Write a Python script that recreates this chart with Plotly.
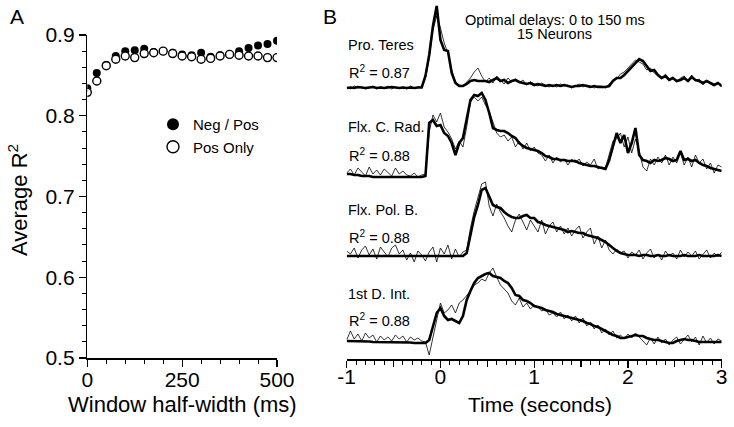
import plotly.graph_objects as go

W, H = 734, 427

# ---------------- Panel A data ----------------
half_width_ms = [0, 25, 50, 75, 100, 125, 150, 175, 200, 225, 250, 275, 300, 325, 350, 375, 400, 425, 450, 475, 500]
r2_neg_pos = [0.834, 0.853, 0.863, 0.874, 0.880, 0.881, 0.883, 0.879, 0.880, 0.878, 0.876, 0.875, 0.878, 0.873,
              0.875, 0.876, 0.880, 0.884, 0.887, 0.889, 0.893]
r2_pos_only = [0.829, 0.843, 0.862, 0.870, 0.874, 0.872, 0.877, 0.878, 0.880, 0.877, 0.874, 0.873, 0.870, 0.871,
               0.874, 0.876, 0.875, 0.874, 0.874, 0.872, 0.872]

# ---------------- Panel B data (heights above each trace's baseline) ----------------
time_s = [round(-1 + 0.04 * k, 2) for k in range(101)]

teres_model = [0, 0.5, 0, 1, 0.5, 0, 0.5, 1, 0, 0.5, 0, 0.5, 1, 0.5, 0, 0.5, 0, 0.5, 0, 0.5,
               0.5, 12, 33, 62, 82, 48, 38, 37, 15, 5, 2,
               2, 4, 7, 8, 7, 7, 7, 6, 8, 10, 7, 8, 5, 7, 8, 6, 5, 4, 5,
               3, 4, 3, 2, 3,
               2, 3, 2, 3, 2, 1, 2, 2, 3, 2, 1, 2, 1,
               1, 1, 2, 7, 10, 10, 13, 17, 22, 25, 29, 27, 22, 17, 18, 13, 10, 12, 8, 10, 7, 8, 10, 7, 11,
               8, 7, 5, 7, 5, 3, 5, 2]
teres_actual = [1, -1, 2, 0, 1, -1, 0, 2, -1, 1, 0, 2, -1, 1, 0, 1, -1, 2, 0, 1,
                1, 10, 30, 58, 72, 60, 45, 35, 18, 6, 3,
                2, 6, 10, 16, 20, 12, 6, 10, 5, 12, 8, 4, 10, 6, 9, 5, 8, 3, 6,
                4, 2, 5, 3, 1,
                3, 1, 4, 2, 3, 0, 2, 4, 1, 3, 2, 0, 2,
                2, 0, 4, 8, 9, 14, 16, 20, 24, 28, 26, 24, 18, 20, 15, 12, 9, 14, 9, 11, 6, 10, 12, 6, 13,
                7, 9, 3, 8, 4, 2, 6, 1]

rad_model = [3, 3, 2, 2, 1, 1, 1, 0, 0, 0, 0, 0, 0, 0, 0, 0, 0, 0, 0, 0, 0,
             1, 54, 57, 51, 52, 44, 41, 34, 22, 34, 39, 57, 77, 82, 81, 84, 77, 64, 49,
             47, 46, 46, 44, 41, 39, 34, 31, 29, 28, 27, 26, 24, 21, 20, 18, 18, 17, 17, 16,
             16, 16, 14, 13, 12, 11, 11, 10, 9, 8, 17, 31, 44, 34, 42, 24, 34, 49, 22, 17,
             16, 14, 17, 16, 17, 19, 18, 16, 17, 26, 17, 18, 16, 17, 14, 12, 11, 9, 8, 7, 6]
rad_actual = [4, 8, 2, 9, 5, 1, 10, 3, 7, 2, 8, 4, 1, 9, 3, 6, 2, 1, 4, 0, 2,
              3, 45, 62, 55, 64, 50, 45, 38, 28, 36, 30, 50, 75, 80, 76, 80, 72, 66, 55,
              44, 40, 42, 36, 40, 30, 36, 28, 34, 26, 30, 24, 22, 16, 22, 14, 20, 15, 18, 12,
              18, 14, 18, 11, 15, 12, 18, 8, 10, 9, 22, 36, 38, 44, 30, 40, 24, 38, 26, 10,
              6, 18, 12, 20, 14, 22, 12, 20, 14, 24, 12, 20, 10, 22, 14, 18, 8, 14, 4, 12, 10]

pol_model = [0] * 32 + [3, 23, 39, 51, 66, 68, 59, 51,
             49, 48, 44, 41, 39, 38, 38, 40, 41, 38, 38, 34, 33, 31, 30, 29, 28, 27, 26, 24,
             25, 24, 23, 23, 21, 20, 19, 18, 16, 14, 11, 8, 5, 3, 2, 1,
             1, 1, 0, 1, 1, 0, 0, 1, 0, 0, 1, 0, 0, 0, 1, 0, 0, 0, 1, 0, 0, 0, 0, 1, 0]
pol_actual = [5, 2, 8, -2, 6, 10, 1, 7, -3, 9, 4, -1, 8, 11, 2, 6, -4, 3, -6, 5, 1, -5, 4, 9, -6, 8, 2, 11, -3, 7, -1, 4,
              6, 28, 45, 60, 72, 74, 50, 40,
              52, 44, 38, 30, 24, 36, 42, 34, 26, 36, 30, 24, 36, 22, 30, 34, 24, 30, 22, 28,
              20, 26, 30, 18, 24, 28, 12, 20, 8, 16, 6, 2, 7, 3, 5, -2,
              4, 1, 6, -3, 3, 7, -2, 2, -4, 5, 0, 3, -3, 6, -1, 4, 0, 5, -3, 2, 6, -2, 3, -1, 4]

int_model = [2, 2, 2, 2, 1.5, 1.5, 1.5, 1, 1, 1, 1, 1, 1, 1, 0.5, 0.5, 0.5, 0.5, 0, 0, 0,
             0, 3, 17, 30, 35, 27, 23, 24, 22, 20, 27, 43, 52, 60, 65, 67, 69, 70, 67,
             66, 65, 62, 60, 55, 48, 47, 43, 42, 40, 37, 36, 35, 33, 32, 31, 29, 28, 27, 26,
             25, 24, 23, 22, 20, 19, 17, 16, 14, 12, 10, 8, 7, 5, 5, 6, 7, 8, 7, 7,
             5, 4, 3, 3, 2, 1, 0, 0, 2, 3, 4, 3, 3, 2, 1, 1, 1, 1, 1, 1, 1]
int_actual = [3, 12, 4, 9, 2, 10, 5, 8, 1, 7, 3, 6, 2, 8, 4, 7, 1, 6, 3, 5, 2,
              1, -12, 7, 23, 40, 30, 33, 38, 30, 40, 43, 47, 52, 58, 60, 64, 62, 70, 75,
              66, 58, 54, 50, 42, 38, 45, 36, 40, 34, 38, 36, 32, 34, 28, 30, 26, 31, 24, 28,
              22, 27, 20, 25, 17, 21, 14, 18, 10, 14, 8, 12, 5, 8, 4, 9, 5, 10, 6, 2,
              -2, 5, -1, 6, 0, 4, -2, 3, 6, -1, 4, 8, 1, 6, -2, 7, 0, 5, -1, 4, 2]

muscle_names = ["Pro. Teres", "Flx. C. Rad.", "Flx. Pol. B.", "1st D. Int."]
r2_labels = ["0.87", "0.88", "0.88", "0.88"]
model_series = [teres_model, rad_model, pol_model, int_model]
actual_series = [teres_actual, rad_actual, pol_actual, int_actual]

a_tickvals = [0, 250, 500]
a_ytickvals = [0.5, 0.6, 0.7, 0.8, 0.9]
b_label_ticks = [-1, 0, 1, 2, 3]
b_label_text = ["-1", "0", "1", "2", "3"]
b_half_ticks = [-0.5, 0.5, 1.5, 2.5]

# layout constants (pixel geometry)
B_BOTTOM_PX = 359          # x-axis line of panel B
baseline_px = [88, 177, 256, 343]   # baseline pixel row of each trace
name_px = [45, 127, 210, 294]
r2_px = [72, 155, 237, 320]

FONT = "Liberation Sans, Arial, Helvetica, sans-serif"


def px_x(p):
    return p / W


def px_y(p):
    return 1 - p / H


fig = go.Figure()

# Panel A markers
fig.add_trace(go.Scatter(x=half_width_ms, y=r2_neg_pos, mode="markers", showlegend=False,
                         marker=dict(symbol="circle", size=8, color="black", line=dict(width=0)),
                         xaxis="x", yaxis="y"))
fig.add_trace(go.Scatter(x=half_width_ms, y=r2_pos_only, mode="markers", showlegend=False,
                         marker=dict(symbol="circle", size=8, color="white", line=dict(width=1.4, color="black")),
                         xaxis="x", yaxis="y"))
# legend-only entries (larger symbols like the reference)
fig.add_trace(go.Scatter(x=[None], y=[None], mode="markers", name="Neg / Pos", legendgroup="a",
                         marker=dict(symbol="circle", size=12, color="black"), xaxis="x", yaxis="y"))
fig.add_trace(go.Scatter(x=[None], y=[None], mode="markers", name="Pos Only", legendgroup="b",
                         marker=dict(symbol="circle", size=12, color="white", line=dict(width=1.4, color="black")),
                         xaxis="x", yaxis="y"))

# Panel B traces
for i in range(4):
    base = B_BOTTOM_PX - baseline_px[i]
    fig.add_trace(go.Scatter(x=time_s, y=[base + v for v in actual_series[i]], mode="lines",
                             line=dict(color="black", width=0.8), showlegend=False,
                             xaxis="x2", yaxis="y2"))
    fig.add_trace(go.Scatter(x=time_s, y=[base + v for v in model_series[i]], mode="lines",
                             line=dict(color="black", width=2.6), showlegend=False,
                             xaxis="x2", yaxis="y2"))
# invisible trace so the half-second tick axis is drawn
fig.add_trace(go.Scatter(x=[None], y=[None], mode="lines", showlegend=False, xaxis="x3", yaxis="y2",
                         hoverinfo="skip"))

tick_font = dict(family=FONT, size=21, color="black")
minor_common = dict(ticks="outside", ticklen=4, tickwidth=1, tickcolor="black", showgrid=False)

fig.update_layout(
    template="none",
    width=W, height=H, autosize=False,
    margin=dict(l=0, r=0, t=0, b=0, pad=0, autoexpand=False),
    paper_bgcolor="white", plot_bgcolor="white",
    font=dict(family=FONT, color="black"),
    xaxis=dict(domain=[px_x(87.3), px_x(277)], range=[0, 500], anchor="y", automargin=False,
               showline=True, linecolor="black", linewidth=1.5,
               showgrid=False, zeroline=False,
               tickmode="array", tickvals=a_tickvals, ticks="outside", ticklen=7, tickwidth=1.3,
               tickcolor="black", tickfont=tick_font, ticklabelstandoff=-5,
               minor=dict(dtick=50, **minor_common)),
    yaxis=dict(domain=[px_y(358), px_y(35)], range=[0.5, 0.9], anchor="x", automargin=False,
               showline=True, linecolor="black", linewidth=1.5,
               showgrid=False, zeroline=False,
               tickmode="array", tickvals=a_ytickvals, ticktext=["%.1f" % v for v in a_ytickvals],
               ticks="outside", ticklen=7, tickwidth=1.3, tickcolor="black", tickfont=tick_font,
               minor=dict(dtick=0.02, **minor_common)),
    xaxis2=dict(domain=[px_x(346.7), px_x(721.7)], range=[-1, 3], anchor="y2", automargin=False,
                showline=True, linecolor="black", linewidth=1.5,
                showgrid=False, zeroline=False,
                tickmode="array", tickvals=b_label_ticks, ticktext=b_label_text,
                ticks="outside", ticklen=7, tickwidth=1.3, tickcolor="black", tickfont=tick_font,
                ticklabelstandoff=-9,
                minor=dict(dtick=0.1, **minor_common)),
    xaxis3=dict(domain=[px_x(346.7), px_x(721.7)], range=[-1, 3], anchor="y2", overlaying="x2",
                automargin=False, showline=False, showgrid=False, zeroline=False,
                tickmode="array", tickvals=b_half_ticks, showticklabels=False,
                ticks="outside", ticklen=7, tickwidth=1.3, tickcolor="black"),
    yaxis2=dict(domain=[px_y(B_BOTTOM_PX), 1], range=[0, B_BOTTOM_PX], anchor="x2", automargin=False,
                visible=False, showgrid=False, zeroline=False),
    showlegend=True,
    legend=dict(x=px_x(153), y=px_y(108), xanchor="left", yanchor="top",
                bgcolor="rgba(0,0,0,0)", borderwidth=0, font=dict(family=FONT, size=15, color="black"),
                traceorder="grouped", tracegroupgap=0, itemwidth=30),
)

ann = []


def add_text(text, x, y, size, xanchor="center", angle=0):
    ann.append(dict(text=text, x=px_x(x), y=px_y(y), xref="paper", yref="paper", showarrow=False,
                    textangle=angle, font=dict(family=FONT, size=size, color="black"),
                    xanchor=xanchor, yanchor="middle"))


add_text("A", 17, 16, 21)
add_text("B", 330, 16, 21)
add_text("Average R<sup>2</sup>", 18, 200, 22, angle=-90)
add_text("Window half-width (ms)", 182, 404, 22)
add_text("Time (seconds)", 540, 404, 21)
add_text("Optimal delays: 0 to 150 ms", 555, 20.5, 14.5)
add_text("15 Neurons", 554, 34, 14.5)
for i in range(4):
    add_text(muscle_names[i], 346, name_px[i], 14.5, xanchor="left")
    add_text("R<sup>2</sup> = " + r2_labels[i], 347, r2_px[i], 14.5, xanchor="left")
fig.update_layout(annotations=ann)

fig.write_html("out.html", config={"displayModeBar": False, "staticPlot": True},
               post_script="document.body.style.margin='0px';document.body.style.overflow='hidden';")
